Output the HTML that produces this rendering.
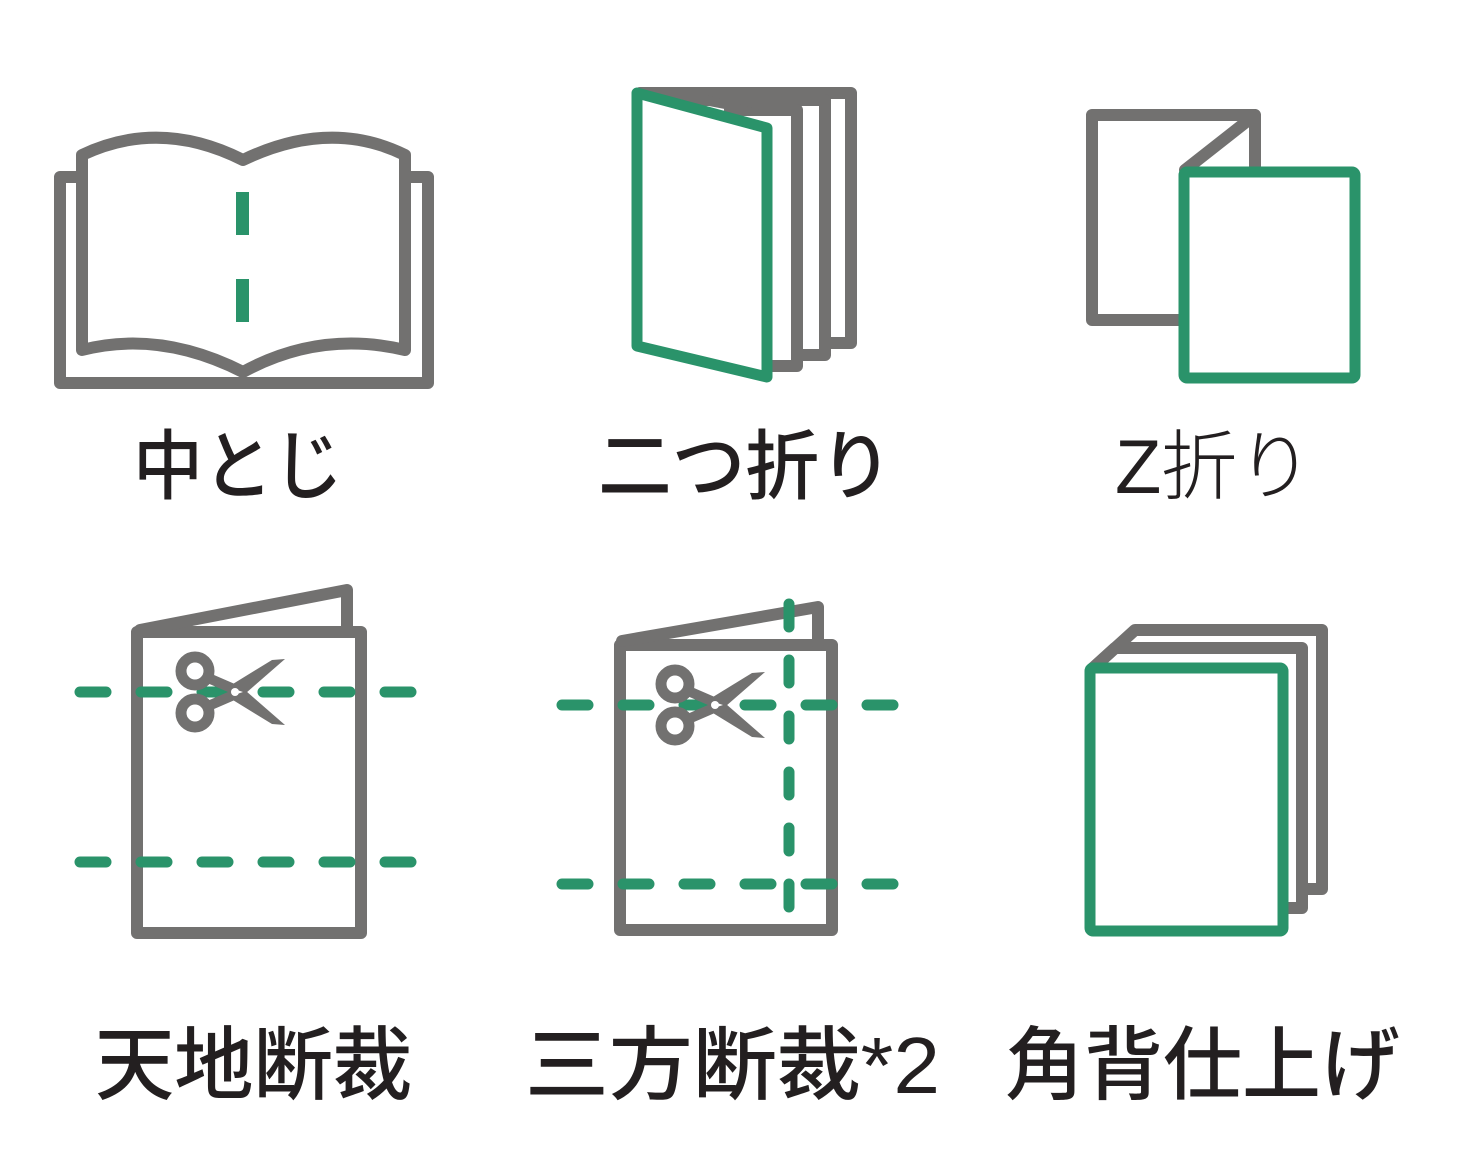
<!DOCTYPE html>
<html><head><meta charset="utf-8"><style>html,body{margin:0;padding:0;background:#fff}svg{display:block}</style></head>
<body>
<svg width="1459" height="1170" viewBox="0 0 1459 1170" xmlns="http://www.w3.org/2000/svg">
<g fill="none" stroke="#727170" stroke-width="12" stroke-linejoin="round" stroke-linecap="round">
<path d="M80,177 H60 V383 H428 V177 H408"/>
<path d="M82,155 Q160,118 243,160 Q330,118 405,155 V350 Q320,330 243,372 Q160,330 82,350 Z" fill="#fff"/>
<path d="M640,93 H851 V343 H828"/>
<path d="M690,100 H825 V355 H800"/>
<path d="M730,110 H797 V366 H770"/>
<path d="M1183,320 H1092 V115 H1255 V170 M1255,115 L1185,170"/>
<rect x="137" y="632" width="224" height="301"/>
<path d="M140,630 L347,590 V630"/>
<rect x="620" y="645" width="212" height="285"/>
<path d="M622,641 L818,607 V645"/>
<path d="M1093,668 L1135,630 H1322 V889 H1302"/>
<path d="M1093,668 L1115,648 H1302 V908 H1288"/>
</g>
<polygon points="640,93 700,93 760,110 730,110" fill="#727170"/>
<g fill="#2a936a">
<rect x="236" y="192" width="13" height="43"/>
<rect x="236" y="279" width="13" height="43"/>
</g>
<g fill="#fff" stroke="#2a936a" stroke-width="11" stroke-linejoin="round">
<path d="M637,93 L767,128 V377 L637,346 Z"/>
<rect x="1184" y="172" width="171" height="206" rx="3"/>
<rect x="1090" y="668" width="193" height="263" rx="3"/>
</g>
<g stroke="#2a936a" stroke-width="11" stroke-linecap="round" fill="none">
<path d="M80,692 H418 M80,862 H418" stroke-dasharray="26 35"/>
<path d="M562,705 H898 M562,884 H898" stroke-dasharray="26 35"/>
<path d="M789,604 V935" stroke-dasharray="23 33"/>
</g>
<defs>
<g id="sc">
<path d="M686,690 L716,703 M686,720 L716,707" stroke="#727170" stroke-width="10"/>
<circle cx="675" cy="684" r="14" fill="#fff" stroke="#727170" stroke-width="11"/>
<circle cx="675" cy="726" r="14" fill="#fff" stroke="#727170" stroke-width="11"/>
<polygon points="708,700 752,673 765,672 726,706" fill="#727170"/>
<polygon points="708,710 752,737 765,738 726,704" fill="#727170"/>
<circle cx="715" cy="705" r="4" fill="#fff"/>
</g>
</defs>
<use href="#sc"/>
<use href="#sc" transform="translate(-480,-13)"/>
<g fill="#231f20" font-family="'Liberation Sans','Noto Sans CJK JP',sans-serif" font-weight="500">
<text x="133" y="493" font-size="76" textLength="210" lengthAdjust="spacingAndGlyphs">中とじ</text>
<text x="598" y="493" font-size="76" textLength="295" lengthAdjust="spacingAndGlyphs">二つ折り</text>
<text x="1115" y="493" font-size="76" font-weight="300" textLength="198" lengthAdjust="spacingAndGlyphs">Z折り</text>
<text x="95" y="1093" font-size="80" textLength="317" lengthAdjust="spacingAndGlyphs">天地断裁</text>
<text x="525" y="1093" font-size="80" textLength="415" lengthAdjust="spacingAndGlyphs">三方断裁*2</text>
<text x="1005" y="1093" font-size="80" textLength="395" lengthAdjust="spacingAndGlyphs">角背仕上げ</text>
</g>
</svg>
</body></html>
